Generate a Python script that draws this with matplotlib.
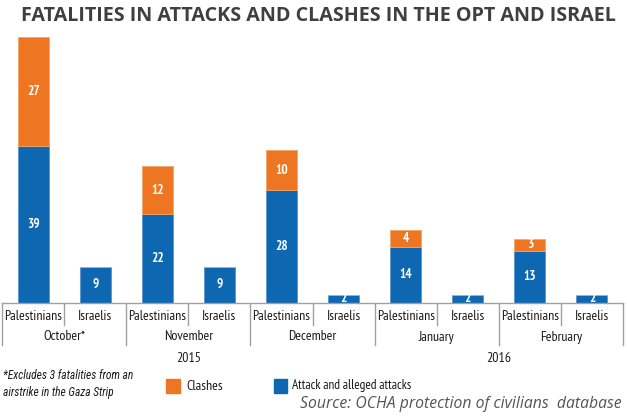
import matplotlib
matplotlib.use('Agg')
import matplotlib.pyplot as plt
from matplotlib import transforms

months = ['October*', 'November', 'December', 'January', 'February']
groups = ['Palestinians', 'Israelis']
years = ['2015', '2016']
year_months = [3, 2]   # how many months fall in each year
attacks = [39, 9, 22, 9, 28, 2, 14, 2, 13, 2]
clashes = [27, 0, 12, 0, 10, 0, 4, 0, 3, 0]

ORANGE = '#EE7623'
BLUE = '#0E68B1'
GRID = '#a0a0a0'
W, H = 627, 416

narrow = ['PT Sans Narrow', 'DejaVu Sans']

fig = plt.figure(figsize=(W / 100, H / 100), dpi=100)
# axes box in pixels: x 2..623, y 37..303 (from top)
ax = fig.add_axes([2 / W, (H - 303) / H, 621 / W, 266 / H])
ax.set_xlim(-0.5, 9.5)
ax.set_ylim(0, 66)
ax.axis('off')

x = list(range(len(attacks)))
ax.bar(x, attacks, width=0.5, color=BLUE, edgecolor='#5b95cc', linewidth=0.6)
ax.bar(x, clashes, width=0.5, bottom=attacks, color=ORANGE, edgecolor='#f5a56a', linewidth=0.6)

for i in x:
    ax.text(i, attacks[i] / 2, str(attacks[i]), color='white', ha='center', va='center',
            fontsize=9.5, fontweight='bold', family=narrow)
    if clashes[i]:
        ax.text(i, attacks[i] + clashes[i] / 2, str(clashes[i]), color='white', ha='center',
                va='center', fontsize=9.5, fontweight='bold', family=narrow)

# category axis below the bars
tr = transforms.blended_transform_factory(ax.transData, fig.transFigure)
def fy(py):
    return 1 - py / H

ax.plot([-0.5, 9.5], [fy(303), fy(303)], color=GRID, lw=1, transform=tr, clip_on=False)
for k in range(len(attacks) + 1):
    xe = k - 0.5
    bottom = 345 if k % 2 == 0 else 325
    ax.plot([xe, xe], [fy(303), fy(bottom)], color=GRID, lw=1, transform=tr, clip_on=False)

for i in x:
    ax.text(i, fy(316), groups[i % 2], ha='center', va='center', fontsize=10,
            color='#1a1a1a', family=narrow, transform=tr)
for m, name in enumerate(months):
    ax.text(2 * m + 0.5, fy(337), name, ha='center', va='center', fontsize=10,
            color='#1a1a1a', family=narrow, transform=tr)
start = 0
for yr, n in zip(years, year_months):
    ax.text(start + n - 0.5, fy(358), yr, ha='center', va='center', fontsize=10,
            color='#1a1a1a', family=narrow, transform=tr)
    start += 2 * n

fig.text(21 / W, fy(21), 'FATALITIES IN ATTACKS AND CLASHES IN THE OPT AND ISRAEL',
         ha='left', va='baseline', fontsize=14.2, fontweight='bold', color='#3f3f3f',
         family=['Open Sans', 'DejaVu Sans'])

fig.text(3 / W, fy(384), '*Excludes 3 fatalities from an\nairstrike in the Gaza Strip',
         ha='left', va='center', fontsize=8.3, style='italic', color='#1a1a1a',
         family=['Roboto Condensed', 'DejaVu Sans'], linespacing=1.4)

# legend
fig.patches.append(plt.Rectangle((166 / W, fy(393)), 14 / W, 14 / H, color=ORANGE,
                                 transform=fig.transFigure, figure=fig))
fig.text(186 / W, fy(386), 'Clashes', ha='left', va='center', fontsize=10,
         color='#1a1a1a', family=narrow)
fig.patches.append(plt.Rectangle((274 / W, fy(393)), 13 / W, 14 / H, color=BLUE,
                                 transform=fig.transFigure, figure=fig))
fig.text(292 / W, fy(386), 'Attack and alleged attacks', ha='left', va='center',
         fontsize=9.5, color='#1a1a1a', family=narrow)

fig.text(622 / W, fy(404), 'Source: OCHA protection of civilians  database', ha='right',
         va='center', fontsize=11.3, style='italic', color='#555555',
         family=['Open Sans', 'DejaVu Sans'])

fig.savefig('out.png', dpi=100)
